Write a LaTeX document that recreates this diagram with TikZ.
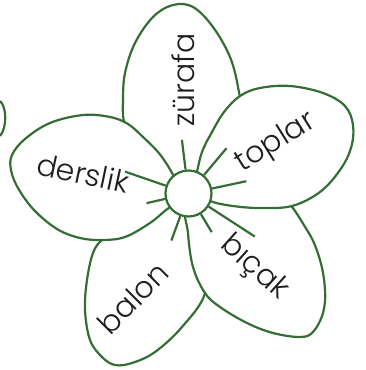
\documentclass[tikz,border=0pt]{standalone}
\usepackage{fontspec}
\setmainfont{Poppins}[UprightFont=* Light]
\usetikzlibrary{positioning}
\definecolor{FlwGreen}{RGB}{52,110,52}
\definecolor{FlwInk}{RGB}{30,30,30}
\tikzset{
  flw/petal/.style={
    draw=FlwGreen,
    line width=2.2pt,
    fill=white,
    line join=round
  },
  flw/edge/.style={draw=FlwGreen, line width=2.2pt},
  flw/core/.style={circle, draw=FlwGreen, line width=2.2pt, fill=white, minimum size=46pt, inner sep=0pt},
  flw/word/.style={font=\fontsize{30}{30}\selectfont, text=FlwInk, inner sep=0pt}
}

\begin{document}
\begin{tikzpicture}[x=1pt,y=-1pt]
  \useasboundingbox (0,0) rectangle (365,370);
  % petals, back to front
  \draw[flw/petal] plot[smooth cycle, tension=0.6] coordinates {(188,193) (160,178) (133,148) (124,122) (123,100) (125,73) (135,43) (153,17) (173,5) (193,7) (213,27) (230,57) (238,87) (240,112) (228,148) (208,178)};
  \draw[flw/petal] plot[smooth cycle, tension=0.6] coordinates {(180,200) (145,218) (118,230) (102,240) (93,253) (87,280) (85,310) (90,340) (102,357) (115,365) (132,363) (155,352) (182,327) (205,293) (200,255) (193,215)};
  \draw[flw/petal] plot[smooth cycle, tension=0.6] coordinates {(188,205) (230,197) (278,195) (307,230) (320,260) (325,290) (323,313) (313,332) (300,337) (273,333) (247,323) (220,307) (205,293) (193,267) (188,233)};
  \draw[flw/petal] plot[smooth cycle, tension=0.6] coordinates {(192,190) (196,176) (202,152) (212,132) (224,112) (240,96) (260,88) (290,86) (323,93) (345,106) (353,125) (351,148) (340,170) (320,192) (292,206) (260,208) (233,206) (210,201)};
  \draw[flw/petal] plot[smooth cycle, tension=0.6] coordinates {(185,193) (176,180) (168,166) (158,152) (143,137) (128,124) (110,117) (83,115) (50,123) (25,139) (12,155) (11,170) (18,188) (34,210) (57,229) (80,238) (102,240) (125,237) (150,223) (166,210) (176,203)};
  \draw[flw/edge] (0,101) .. controls (7,107) and (7,128) .. (0,136);
  \node[flw/core] (core) at (188.5,193.5) {};
  \foreach \ang/\len in {97/30, 50/35, 12/35, -33/55, -59/21, -110/26, 193/19, 161/43}
    \draw[flw/edge] (core.\ang) -- ++(\ang:\len pt);
  \node[flw/word, rotate=90] (zurafa) at (183,80) {zürafa};
  \node[flw/word, rotate=32] (toplar) at (276,143) {toplar};
  \node[flw/word, rotate=-42] (bicak) at (254,268) {bıçak};
  \node[flw/word, rotate=45] (balon) at (133,298) {balon};
  \node[flw/word, rotate=-12] (derslik) at (83,173) {derslik};
\end{tikzpicture}
\end{document}
